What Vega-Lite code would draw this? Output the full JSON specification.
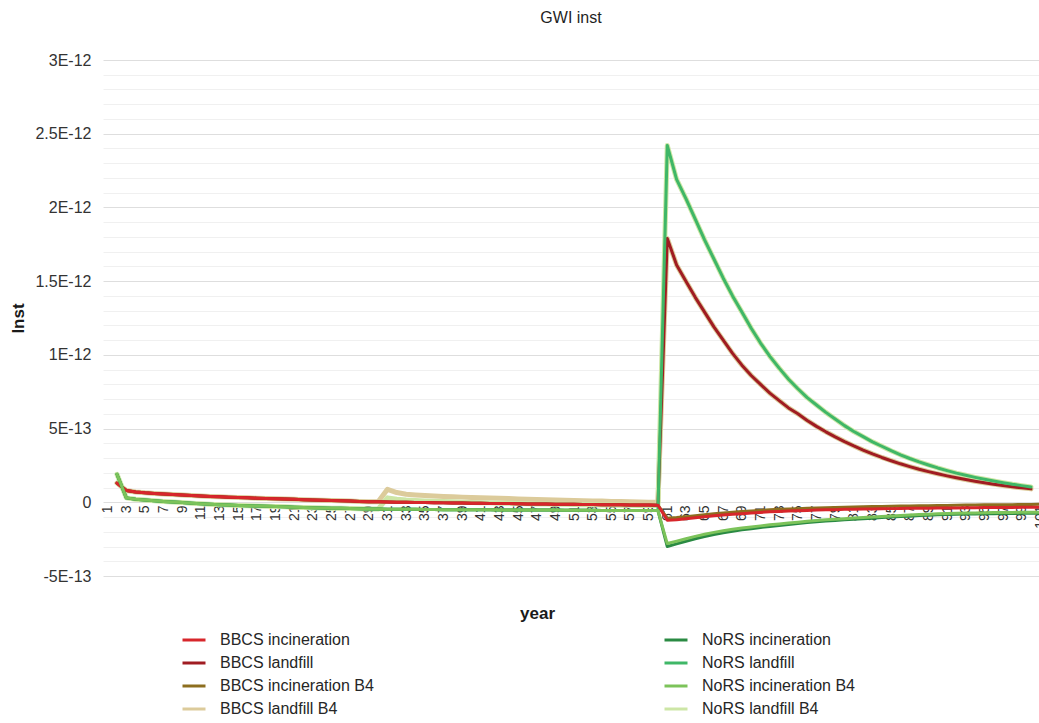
{
  "$schema": "https://vega.github.io/schema/vega-lite/v6.json",
  "width": 942,
  "height": 516,
  "autosize": {"type": "none"},
  "padding": {"left": 103, "top": 60, "right": 0, "bottom": 147},
  "background": "white",
  "title": {"text": "GWI inst", "font": "Liberation Sans", "fontSize": 16, "fontWeight": "normal", "color": "#1f1f1f", "anchor": "middle", "frame": "group", "offset": 26, "dx": -3},
  "config": {"view": {"stroke": null}, "font": "Liberation Sans"},
  "datasets": {
    "bbcs_inc": [
      {"year":2,"gwi":1.3e-13},{"year":3,"gwi":0.8e-13},{"year":4,"gwi":0.7e-13},{"year":5,"gwi":0.64e-13},{"year":6,"gwi":0.6e-13},{"year":7,"gwi":0.56e-13},{"year":8,"gwi":0.52e-13},{"year":9,"gwi":0.49e-13},{"year":10,"gwi":0.46e-13},{"year":11,"gwi":0.43e-13},{"year":12,"gwi":0.4e-13},{"year":13,"gwi":0.37e-13},{"year":14,"gwi":0.35e-13},{"year":15,"gwi":0.32e-13},{"year":16,"gwi":0.3e-13},{"year":17,"gwi":0.28e-13},{"year":18,"gwi":0.26e-13},{"year":19,"gwi":0.24e-13},{"year":20,"gwi":0.22e-13},{"year":21,"gwi":0.2e-13},{"year":22,"gwi":0.18e-13},{"year":23,"gwi":0.16e-13},{"year":24,"gwi":0.14e-13},{"year":25,"gwi":0.12e-13},{"year":26,"gwi":0.1e-13},{"year":27,"gwi":0.08e-13},{"year":28,"gwi":0.06e-13},{"year":29,"gwi":0.04e-13},{"year":30,"gwi":0.03e-13},
      {"year":31,"gwi":0.02e-13},{"year":32,"gwi":0.01e-13},{"year":33,"gwi":0},{"year":34,"gwi":-0.01e-13},{"year":35,"gwi":-0.02e-13},{"year":36,"gwi":-0.03e-13},{"year":37,"gwi":-0.04e-13},{"year":38,"gwi":-0.05e-13},{"year":39,"gwi":-0.05e-13},{"year":40,"gwi":-0.06e-13},{"year":41,"gwi":-0.07e-13},{"year":42,"gwi":-0.08e-13},{"year":43,"gwi":-0.08e-13},{"year":44,"gwi":-0.09e-13},{"year":45,"gwi":-0.1e-13},{"year":46,"gwi":-0.11e-13},{"year":47,"gwi":-0.11e-13},{"year":48,"gwi":-0.12e-13},{"year":49,"gwi":-0.13e-13},{"year":50,"gwi":-0.13e-13},{"year":51,"gwi":-0.14e-13},{"year":52,"gwi":-0.15e-13},{"year":53,"gwi":-0.15e-13},{"year":54,"gwi":-0.16e-13},{"year":55,"gwi":-0.17e-13},{"year":56,"gwi":-0.17e-13},{"year":57,"gwi":-0.18e-13},{"year":58,"gwi":-0.19e-13},{"year":59,"gwi":-0.19e-13},{"year":60,"gwi":-0.2e-13},
      {"year":61,"gwi":-1.22e-13},{"year":62,"gwi":-1.18e-13},{"year":63,"gwi":-1.12e-13},{"year":64,"gwi":-1.05e-13},{"year":65,"gwi":-0.98e-13},{"year":66,"gwi":-0.92e-13},{"year":67,"gwi":-0.86e-13},{"year":68,"gwi":-0.81e-13},{"year":69,"gwi":-0.77e-13},{"year":70,"gwi":-0.73e-13},{"year":71,"gwi":-0.69e-13},{"year":72,"gwi":-0.65e-13},{"year":73,"gwi":-0.62e-13},{"year":74,"gwi":-0.59e-13},{"year":75,"gwi":-0.57e-13},{"year":76,"gwi":-0.55e-13},{"year":77,"gwi":-0.53e-13},{"year":78,"gwi":-0.51e-13},{"year":79,"gwi":-0.5e-13},{"year":80,"gwi":-0.48e-13},{"year":81,"gwi":-0.47e-13},{"year":82,"gwi":-0.46e-13},{"year":83,"gwi":-0.45e-13},{"year":84,"gwi":-0.44e-13},{"year":85,"gwi":-0.43e-13},{"year":86,"gwi":-0.42e-13},{"year":87,"gwi":-0.41e-13},{"year":88,"gwi":-0.4e-13},{"year":89,"gwi":-0.4e-13},{"year":90,"gwi":-0.39e-13},{"year":91,"gwi":-0.38e-13},{"year":92,"gwi":-0.38e-13},{"year":93,"gwi":-0.37e-13},{"year":94,"gwi":-0.37e-13},{"year":95,"gwi":-0.36e-13},{"year":96,"gwi":-0.36e-13},{"year":97,"gwi":-0.35e-13},{"year":98,"gwi":-0.35e-13},{"year":99,"gwi":-0.34e-13},{"year":100,"gwi":-0.34e-13},{"year":101,"gwi":-0.33e-13}
    ],
    "bbcs_land": [
      {"year":2,"gwi":1.3e-13},{"year":3,"gwi":0.8e-13},{"year":4,"gwi":0.7e-13},{"year":5,"gwi":0.64e-13},{"year":6,"gwi":0.6e-13},{"year":7,"gwi":0.56e-13},{"year":8,"gwi":0.52e-13},{"year":9,"gwi":0.49e-13},{"year":10,"gwi":0.46e-13},{"year":11,"gwi":0.43e-13},{"year":12,"gwi":0.4e-13},{"year":13,"gwi":0.37e-13},{"year":14,"gwi":0.35e-13},{"year":15,"gwi":0.32e-13},{"year":16,"gwi":0.3e-13},{"year":17,"gwi":0.28e-13},{"year":18,"gwi":0.26e-13},{"year":19,"gwi":0.24e-13},{"year":20,"gwi":0.22e-13},{"year":21,"gwi":0.2e-13},{"year":22,"gwi":0.18e-13},{"year":23,"gwi":0.16e-13},{"year":24,"gwi":0.14e-13},{"year":25,"gwi":0.12e-13},{"year":26,"gwi":0.1e-13},{"year":27,"gwi":0.08e-13},{"year":28,"gwi":0.06e-13},{"year":29,"gwi":0.04e-13},{"year":30,"gwi":0.03e-13},
      {"year":31,"gwi":0.02e-13},{"year":32,"gwi":0.01e-13},{"year":33,"gwi":0},{"year":34,"gwi":-0.01e-13},{"year":35,"gwi":-0.02e-13},{"year":36,"gwi":-0.03e-13},{"year":37,"gwi":-0.04e-13},{"year":38,"gwi":-0.05e-13},{"year":39,"gwi":-0.05e-13},{"year":40,"gwi":-0.06e-13},{"year":41,"gwi":-0.07e-13},{"year":42,"gwi":-0.08e-13},{"year":43,"gwi":-0.08e-13},{"year":44,"gwi":-0.09e-13},{"year":45,"gwi":-0.1e-13},{"year":46,"gwi":-0.11e-13},{"year":47,"gwi":-0.11e-13},{"year":48,"gwi":-0.12e-13},{"year":49,"gwi":-0.13e-13},{"year":50,"gwi":-0.13e-13},{"year":51,"gwi":-0.14e-13},{"year":52,"gwi":-0.15e-13},{"year":53,"gwi":-0.15e-13},{"year":54,"gwi":-0.16e-13},{"year":55,"gwi":-0.17e-13},{"year":56,"gwi":-0.17e-13},{"year":57,"gwi":-0.18e-13},{"year":58,"gwi":-0.19e-13},{"year":59,"gwi":-0.19e-13},{"year":60,"gwi":-0.2e-13},
      {"year":61,"gwi":17.9e-13},{"year":62,"gwi":16.1e-13},{"year":63,"gwi":15.0e-13},{"year":64,"gwi":13.9e-13},{"year":65,"gwi":12.9e-13},{"year":66,"gwi":11.9e-13},{"year":67,"gwi":11.0e-13},{"year":68,"gwi":10.1e-13},{"year":69,"gwi":9.3e-13},{"year":70,"gwi":8.6e-13},{"year":71,"gwi":8.0e-13},{"year":72,"gwi":7.4e-13},{"year":73,"gwi":6.9e-13},{"year":74,"gwi":6.4e-13},{"year":75,"gwi":6.0e-13},{"year":76,"gwi":5.55e-13},{"year":77,"gwi":5.15e-13},{"year":78,"gwi":4.78e-13},{"year":79,"gwi":4.44e-13},{"year":80,"gwi":4.12e-13},{"year":81,"gwi":3.82e-13},{"year":82,"gwi":3.54e-13},{"year":83,"gwi":3.28e-13},{"year":84,"gwi":3.04e-13},{"year":85,"gwi":2.82e-13},{"year":86,"gwi":2.61e-13},{"year":87,"gwi":2.42e-13},{"year":88,"gwi":2.24e-13},{"year":89,"gwi":2.08e-13},{"year":90,"gwi":1.93e-13},{"year":91,"gwi":1.79e-13},{"year":92,"gwi":1.66e-13},{"year":93,"gwi":1.54e-13},{"year":94,"gwi":1.43e-13},{"year":95,"gwi":1.33e-13},{"year":96,"gwi":1.23e-13},{"year":97,"gwi":1.14e-13},{"year":98,"gwi":1.06e-13},{"year":99,"gwi":0.98e-13},{"year":100,"gwi":0.91e-13}
    ],
    "bbcs_inc_b4": [
      {"year":2,"gwi":1.3e-13},{"year":3,"gwi":0.8e-13},{"year":4,"gwi":0.7e-13},{"year":5,"gwi":0.64e-13},{"year":6,"gwi":0.6e-13},{"year":7,"gwi":0.56e-13},{"year":8,"gwi":0.52e-13},{"year":9,"gwi":0.49e-13},{"year":10,"gwi":0.46e-13},{"year":11,"gwi":0.43e-13},{"year":12,"gwi":0.4e-13},{"year":13,"gwi":0.37e-13},{"year":14,"gwi":0.35e-13},{"year":15,"gwi":0.32e-13},{"year":16,"gwi":0.3e-13},{"year":17,"gwi":0.28e-13},{"year":18,"gwi":0.26e-13},{"year":19,"gwi":0.24e-13},{"year":20,"gwi":0.22e-13},{"year":21,"gwi":0.2e-13},{"year":22,"gwi":0.18e-13},{"year":23,"gwi":0.16e-13},{"year":24,"gwi":0.14e-13},{"year":25,"gwi":0.12e-13},{"year":26,"gwi":0.1e-13},{"year":27,"gwi":0.08e-13},{"year":28,"gwi":0.06e-13},{"year":29,"gwi":0.04e-13},{"year":30,"gwi":0.03e-13},
      {"year":31,"gwi":0.02e-13},{"year":32,"gwi":0.01e-13},{"year":33,"gwi":0},{"year":34,"gwi":-0.01e-13},{"year":35,"gwi":-0.02e-13},{"year":36,"gwi":-0.03e-13},{"year":37,"gwi":-0.04e-13},{"year":38,"gwi":-0.05e-13},{"year":39,"gwi":-0.05e-13},{"year":40,"gwi":-0.06e-13},{"year":41,"gwi":-0.07e-13},{"year":42,"gwi":-0.08e-13},{"year":43,"gwi":-0.08e-13},{"year":44,"gwi":-0.09e-13},{"year":45,"gwi":-0.1e-13},{"year":46,"gwi":-0.11e-13},{"year":47,"gwi":-0.11e-13},{"year":48,"gwi":-0.12e-13},{"year":49,"gwi":-0.13e-13},{"year":50,"gwi":-0.13e-13},{"year":51,"gwi":-0.14e-13},{"year":52,"gwi":-0.15e-13},{"year":53,"gwi":-0.15e-13},{"year":54,"gwi":-0.16e-13},{"year":55,"gwi":-0.17e-13},{"year":56,"gwi":-0.17e-13},{"year":57,"gwi":-0.18e-13},{"year":58,"gwi":-0.19e-13},{"year":59,"gwi":-0.19e-13},{"year":60,"gwi":-0.2e-13},
      {"year":61,"gwi":-1.08e-13},{"year":62,"gwi":-1.04e-13},{"year":63,"gwi":-0.98e-13},{"year":64,"gwi":-0.91e-13},{"year":65,"gwi":-0.84e-13},{"year":66,"gwi":-0.78e-13},{"year":67,"gwi":-0.72e-13},{"year":68,"gwi":-0.67e-13},{"year":69,"gwi":-0.63e-13},{"year":70,"gwi":-0.59e-13},{"year":71,"gwi":-0.55e-13},{"year":72,"gwi":-0.51e-13},{"year":73,"gwi":-0.48e-13},{"year":74,"gwi":-0.45e-13},{"year":75,"gwi":-0.43e-13},{"year":76,"gwi":-0.41e-13},{"year":77,"gwi":-0.39e-13},{"year":78,"gwi":-0.37e-13},{"year":79,"gwi":-0.35e-13},{"year":80,"gwi":-0.33e-13},{"year":81,"gwi":-0.32e-13},{"year":82,"gwi":-0.3e-13},{"year":83,"gwi":-0.29e-13},{"year":84,"gwi":-0.28e-13},{"year":85,"gwi":-0.27e-13},{"year":86,"gwi":-0.26e-13},{"year":87,"gwi":-0.25e-13},{"year":88,"gwi":-0.24e-13},{"year":89,"gwi":-0.23e-13},{"year":90,"gwi":-0.22e-13},{"year":91,"gwi":-0.21e-13},{"year":92,"gwi":-0.2e-13},{"year":93,"gwi":-0.19e-13},{"year":94,"gwi":-0.18e-13},{"year":95,"gwi":-0.17e-13},{"year":96,"gwi":-0.17e-13},{"year":97,"gwi":-0.16e-13},{"year":98,"gwi":-0.16e-13},{"year":99,"gwi":-0.15e-13},{"year":100,"gwi":-0.15e-13},{"year":101,"gwi":-0.14e-13}
    ],
    "bbcs_land_b4": [
      {"year":2,"gwi":1.3e-13},{"year":3,"gwi":0.8e-13},{"year":4,"gwi":0.7e-13},{"year":5,"gwi":0.64e-13},{"year":6,"gwi":0.6e-13},{"year":7,"gwi":0.56e-13},{"year":8,"gwi":0.52e-13},{"year":9,"gwi":0.49e-13},{"year":10,"gwi":0.46e-13},{"year":11,"gwi":0.43e-13},{"year":12,"gwi":0.4e-13},{"year":13,"gwi":0.37e-13},{"year":14,"gwi":0.35e-13},{"year":15,"gwi":0.32e-13},{"year":16,"gwi":0.3e-13},{"year":17,"gwi":0.28e-13},{"year":18,"gwi":0.26e-13},{"year":19,"gwi":0.24e-13},{"year":20,"gwi":0.22e-13},{"year":21,"gwi":0.2e-13},{"year":22,"gwi":0.18e-13},{"year":23,"gwi":0.16e-13},{"year":24,"gwi":0.14e-13},{"year":25,"gwi":0.12e-13},{"year":26,"gwi":0.1e-13},{"year":27,"gwi":0.08e-13},{"year":28,"gwi":0.06e-13},{"year":29,"gwi":0.04e-13},{"year":30,"gwi":0.03e-13},
      {"year":31,"gwi":0.88e-13},{"year":32,"gwi":0.66e-13},{"year":33,"gwi":0.55e-13},{"year":34,"gwi":0.5e-13},{"year":35,"gwi":0.46e-13},{"year":36,"gwi":0.43e-13},{"year":37,"gwi":0.4e-13},{"year":38,"gwi":0.37e-13},{"year":39,"gwi":0.35e-13},{"year":40,"gwi":0.33e-13},{"year":41,"gwi":0.31e-13},{"year":42,"gwi":0.29e-13},{"year":43,"gwi":0.27e-13},{"year":44,"gwi":0.25e-13},{"year":45,"gwi":0.23e-13},{"year":46,"gwi":0.21e-13},{"year":47,"gwi":0.19e-13},{"year":48,"gwi":0.17e-13},{"year":49,"gwi":0.16e-13},{"year":50,"gwi":0.14e-13},{"year":51,"gwi":0.12e-13},{"year":52,"gwi":0.11e-13},{"year":53,"gwi":0.09e-13},{"year":54,"gwi":0.08e-13},{"year":55,"gwi":0.06e-13},{"year":56,"gwi":0.05e-13},{"year":57,"gwi":0.04e-13},{"year":58,"gwi":0.02e-13},{"year":59,"gwi":0.01e-13},{"year":60,"gwi":0},
      {"year":61,"gwi":17.9e-13},{"year":62,"gwi":16.1e-13},{"year":63,"gwi":15.0e-13},{"year":64,"gwi":13.9e-13},{"year":65,"gwi":12.9e-13},{"year":66,"gwi":11.9e-13},{"year":67,"gwi":11.0e-13},{"year":68,"gwi":10.1e-13},{"year":69,"gwi":9.3e-13},{"year":70,"gwi":8.6e-13},{"year":71,"gwi":8.0e-13},{"year":72,"gwi":7.4e-13},{"year":73,"gwi":6.9e-13},{"year":74,"gwi":6.4e-13},{"year":75,"gwi":6.0e-13},{"year":76,"gwi":5.55e-13},{"year":77,"gwi":5.15e-13},{"year":78,"gwi":4.78e-13},{"year":79,"gwi":4.44e-13},{"year":80,"gwi":4.12e-13},{"year":81,"gwi":3.82e-13},{"year":82,"gwi":3.54e-13},{"year":83,"gwi":3.28e-13},{"year":84,"gwi":3.04e-13},{"year":85,"gwi":2.82e-13},{"year":86,"gwi":2.61e-13},{"year":87,"gwi":2.42e-13},{"year":88,"gwi":2.24e-13},{"year":89,"gwi":2.08e-13},{"year":90,"gwi":1.93e-13},{"year":91,"gwi":1.79e-13},{"year":92,"gwi":1.66e-13},{"year":93,"gwi":1.54e-13},{"year":94,"gwi":1.43e-13},{"year":95,"gwi":1.33e-13},{"year":96,"gwi":1.23e-13},{"year":97,"gwi":1.14e-13},{"year":98,"gwi":1.06e-13},{"year":99,"gwi":0.98e-13},{"year":100,"gwi":0.91e-13}
    ],
    "nors_inc": [
      {"year":2,"gwi":1.9e-13},{"year":3,"gwi":0.3e-13},{"year":4,"gwi":0.2e-13},{"year":5,"gwi":0.15e-13},{"year":6,"gwi":0.1e-13},{"year":7,"gwi":0.06e-13},{"year":8,"gwi":0.02e-13},{"year":9,"gwi":-0.02e-13},{"year":10,"gwi":-0.06e-13},{"year":11,"gwi":-0.1e-13},{"year":12,"gwi":-0.13e-13},{"year":13,"gwi":-0.16e-13},{"year":14,"gwi":-0.19e-13},{"year":15,"gwi":-0.21e-13},{"year":16,"gwi":-0.23e-13},{"year":17,"gwi":-0.25e-13},{"year":18,"gwi":-0.27e-13},{"year":19,"gwi":-0.29e-13},{"year":20,"gwi":-0.31e-13},{"year":21,"gwi":-0.33e-13},{"year":22,"gwi":-0.35e-13},{"year":23,"gwi":-0.37e-13},{"year":24,"gwi":-0.38e-13},{"year":25,"gwi":-0.4e-13},{"year":26,"gwi":-0.41e-13},{"year":27,"gwi":-0.42e-13},{"year":28,"gwi":-0.44e-13},{"year":29,"gwi":-0.45e-13},{"year":30,"gwi":-0.46e-13},
      {"year":31,"gwi":-0.47e-13},{"year":32,"gwi":-0.47e-13},{"year":33,"gwi":-0.48e-13},{"year":34,"gwi":-0.48e-13},{"year":35,"gwi":-0.49e-13},{"year":36,"gwi":-0.49e-13},{"year":37,"gwi":-0.5e-13},{"year":38,"gwi":-0.5e-13},{"year":39,"gwi":-0.5e-13},{"year":40,"gwi":-0.51e-13},{"year":41,"gwi":-0.51e-13},{"year":42,"gwi":-0.51e-13},{"year":43,"gwi":-0.52e-13},{"year":44,"gwi":-0.52e-13},{"year":45,"gwi":-0.52e-13},{"year":46,"gwi":-0.53e-13},{"year":47,"gwi":-0.53e-13},{"year":48,"gwi":-0.53e-13},{"year":49,"gwi":-0.53e-13},{"year":50,"gwi":-0.54e-13},{"year":51,"gwi":-0.54e-13},{"year":52,"gwi":-0.54e-13},{"year":53,"gwi":-0.54e-13},{"year":54,"gwi":-0.55e-13},{"year":55,"gwi":-0.55e-13},{"year":56,"gwi":-0.55e-13},{"year":57,"gwi":-0.55e-13},{"year":58,"gwi":-0.56e-13},{"year":59,"gwi":-0.56e-13},{"year":60,"gwi":-0.56e-13},
      {"year":61,"gwi":-3.0e-13},{"year":62,"gwi":-2.82e-13},{"year":63,"gwi":-2.64e-13},{"year":64,"gwi":-2.47e-13},{"year":65,"gwi":-2.32e-13},{"year":66,"gwi":-2.18e-13},{"year":67,"gwi":-2.06e-13},{"year":68,"gwi":-1.96e-13},{"year":69,"gwi":-1.87e-13},{"year":70,"gwi":-1.79e-13},{"year":71,"gwi":-1.71e-13},{"year":72,"gwi":-1.64e-13},{"year":73,"gwi":-1.57e-13},{"year":74,"gwi":-1.5e-13},{"year":75,"gwi":-1.44e-13},{"year":76,"gwi":-1.38e-13},{"year":77,"gwi":-1.32e-13},{"year":78,"gwi":-1.27e-13},{"year":79,"gwi":-1.23e-13},{"year":80,"gwi":-1.19e-13},{"year":81,"gwi":-1.15e-13},{"year":82,"gwi":-1.11e-13},{"year":83,"gwi":-1.08e-13},{"year":84,"gwi":-1.04e-13},{"year":85,"gwi":-1.0e-13},{"year":86,"gwi":-0.97e-13},{"year":87,"gwi":-0.94e-13},{"year":88,"gwi":-0.9e-13},{"year":89,"gwi":-0.88e-13},{"year":90,"gwi":-0.85e-13},{"year":91,"gwi":-0.83e-13},{"year":92,"gwi":-0.81e-13},{"year":93,"gwi":-0.8e-13},{"year":94,"gwi":-0.79e-13},{"year":95,"gwi":-0.78e-13},{"year":96,"gwi":-0.77e-13},{"year":97,"gwi":-0.76e-13},{"year":98,"gwi":-0.76e-13},{"year":99,"gwi":-0.75e-13},{"year":100,"gwi":-0.75e-13},{"year":101,"gwi":-0.74e-13}
    ],
    "nors_land": [
      {"year":2,"gwi":1.9e-13},{"year":3,"gwi":0.3e-13},{"year":4,"gwi":0.2e-13},{"year":5,"gwi":0.15e-13},{"year":6,"gwi":0.1e-13},{"year":7,"gwi":0.06e-13},{"year":8,"gwi":0.02e-13},{"year":9,"gwi":-0.02e-13},{"year":10,"gwi":-0.06e-13},{"year":11,"gwi":-0.1e-13},{"year":12,"gwi":-0.13e-13},{"year":13,"gwi":-0.16e-13},{"year":14,"gwi":-0.19e-13},{"year":15,"gwi":-0.21e-13},{"year":16,"gwi":-0.23e-13},{"year":17,"gwi":-0.25e-13},{"year":18,"gwi":-0.27e-13},{"year":19,"gwi":-0.29e-13},{"year":20,"gwi":-0.31e-13},{"year":21,"gwi":-0.33e-13},{"year":22,"gwi":-0.35e-13},{"year":23,"gwi":-0.37e-13},{"year":24,"gwi":-0.38e-13},{"year":25,"gwi":-0.4e-13},{"year":26,"gwi":-0.41e-13},{"year":27,"gwi":-0.42e-13},{"year":28,"gwi":-0.44e-13},{"year":29,"gwi":-0.45e-13},{"year":30,"gwi":-0.46e-13},
      {"year":31,"gwi":-0.47e-13},{"year":32,"gwi":-0.47e-13},{"year":33,"gwi":-0.48e-13},{"year":34,"gwi":-0.48e-13},{"year":35,"gwi":-0.49e-13},{"year":36,"gwi":-0.49e-13},{"year":37,"gwi":-0.5e-13},{"year":38,"gwi":-0.5e-13},{"year":39,"gwi":-0.5e-13},{"year":40,"gwi":-0.51e-13},{"year":41,"gwi":-0.51e-13},{"year":42,"gwi":-0.51e-13},{"year":43,"gwi":-0.52e-13},{"year":44,"gwi":-0.52e-13},{"year":45,"gwi":-0.52e-13},{"year":46,"gwi":-0.53e-13},{"year":47,"gwi":-0.53e-13},{"year":48,"gwi":-0.53e-13},{"year":49,"gwi":-0.53e-13},{"year":50,"gwi":-0.54e-13},{"year":51,"gwi":-0.54e-13},{"year":52,"gwi":-0.54e-13},{"year":53,"gwi":-0.54e-13},{"year":54,"gwi":-0.55e-13},{"year":55,"gwi":-0.55e-13},{"year":56,"gwi":-0.55e-13},{"year":57,"gwi":-0.55e-13},{"year":58,"gwi":-0.56e-13},{"year":59,"gwi":-0.56e-13},{"year":60,"gwi":-0.56e-13},
      {"year":61,"gwi":24.2e-13},{"year":62,"gwi":21.9e-13},{"year":63,"gwi":20.6e-13},{"year":64,"gwi":19.2e-13},{"year":65,"gwi":17.8e-13},{"year":66,"gwi":16.5e-13},{"year":67,"gwi":15.2e-13},{"year":68,"gwi":14.0e-13},{"year":69,"gwi":12.9e-13},{"year":70,"gwi":11.8e-13},{"year":71,"gwi":10.8e-13},{"year":72,"gwi":9.9e-13},{"year":73,"gwi":9.1e-13},{"year":74,"gwi":8.35e-13},{"year":75,"gwi":7.7e-13},{"year":76,"gwi":7.1e-13},{"year":77,"gwi":6.6e-13},{"year":78,"gwi":6.1e-13},{"year":79,"gwi":5.65e-13},{"year":80,"gwi":5.2e-13},{"year":81,"gwi":4.8e-13},{"year":82,"gwi":4.45e-13},{"year":83,"gwi":4.1e-13},{"year":84,"gwi":3.8e-13},{"year":85,"gwi":3.5e-13},{"year":86,"gwi":3.22e-13},{"year":87,"gwi":2.97e-13},{"year":88,"gwi":2.74e-13},{"year":89,"gwi":2.53e-13},{"year":90,"gwi":2.33e-13},{"year":91,"gwi":2.15e-13},{"year":92,"gwi":1.98e-13},{"year":93,"gwi":1.83e-13},{"year":94,"gwi":1.69e-13},{"year":95,"gwi":1.56e-13},{"year":96,"gwi":1.44e-13},{"year":97,"gwi":1.33e-13},{"year":98,"gwi":1.22e-13},{"year":99,"gwi":1.13e-13},{"year":100,"gwi":1.04e-13}
    ],
    "nors_inc_b4": [
      {"year":2,"gwi":1.9e-13},{"year":3,"gwi":0.3e-13},{"year":4,"gwi":0.2e-13},{"year":5,"gwi":0.15e-13},{"year":6,"gwi":0.1e-13},{"year":7,"gwi":0.06e-13},{"year":8,"gwi":0.02e-13},{"year":9,"gwi":-0.02e-13},{"year":10,"gwi":-0.06e-13},{"year":11,"gwi":-0.1e-13},{"year":12,"gwi":-0.13e-13},{"year":13,"gwi":-0.16e-13},{"year":14,"gwi":-0.19e-13},{"year":15,"gwi":-0.21e-13},{"year":16,"gwi":-0.23e-13},{"year":17,"gwi":-0.25e-13},{"year":18,"gwi":-0.27e-13},{"year":19,"gwi":-0.29e-13},{"year":20,"gwi":-0.31e-13},{"year":21,"gwi":-0.33e-13},{"year":22,"gwi":-0.35e-13},{"year":23,"gwi":-0.37e-13},{"year":24,"gwi":-0.38e-13},{"year":25,"gwi":-0.4e-13},{"year":26,"gwi":-0.41e-13},{"year":27,"gwi":-0.42e-13},{"year":28,"gwi":-0.44e-13},{"year":29,"gwi":-0.45e-13},{"year":30,"gwi":-0.46e-13},
      {"year":31,"gwi":-0.47e-13},{"year":32,"gwi":-0.47e-13},{"year":33,"gwi":-0.48e-13},{"year":34,"gwi":-0.48e-13},{"year":35,"gwi":-0.49e-13},{"year":36,"gwi":-0.49e-13},{"year":37,"gwi":-0.5e-13},{"year":38,"gwi":-0.5e-13},{"year":39,"gwi":-0.5e-13},{"year":40,"gwi":-0.51e-13},{"year":41,"gwi":-0.51e-13},{"year":42,"gwi":-0.51e-13},{"year":43,"gwi":-0.52e-13},{"year":44,"gwi":-0.52e-13},{"year":45,"gwi":-0.52e-13},{"year":46,"gwi":-0.53e-13},{"year":47,"gwi":-0.53e-13},{"year":48,"gwi":-0.53e-13},{"year":49,"gwi":-0.53e-13},{"year":50,"gwi":-0.54e-13},{"year":51,"gwi":-0.54e-13},{"year":52,"gwi":-0.54e-13},{"year":53,"gwi":-0.54e-13},{"year":54,"gwi":-0.55e-13},{"year":55,"gwi":-0.55e-13},{"year":56,"gwi":-0.55e-13},{"year":57,"gwi":-0.55e-13},{"year":58,"gwi":-0.56e-13},{"year":59,"gwi":-0.56e-13},{"year":60,"gwi":-0.56e-13},
      {"year":61,"gwi":-2.8e-13},{"year":62,"gwi":-2.64e-13},{"year":63,"gwi":-2.47e-13},{"year":64,"gwi":-2.31e-13},{"year":65,"gwi":-2.17e-13},{"year":66,"gwi":-2.04e-13},{"year":67,"gwi":-1.93e-13},{"year":68,"gwi":-1.83e-13},{"year":69,"gwi":-1.75e-13},{"year":70,"gwi":-1.67e-13},{"year":71,"gwi":-1.6e-13},{"year":72,"gwi":-1.53e-13},{"year":73,"gwi":-1.47e-13},{"year":74,"gwi":-1.41e-13},{"year":75,"gwi":-1.35e-13},{"year":76,"gwi":-1.29e-13},{"year":77,"gwi":-1.24e-13},{"year":78,"gwi":-1.19e-13},{"year":79,"gwi":-1.15e-13},{"year":80,"gwi":-1.11e-13},{"year":81,"gwi":-1.07e-13},{"year":82,"gwi":-1.03e-13},{"year":83,"gwi":-1.0e-13},{"year":84,"gwi":-0.96e-13},{"year":85,"gwi":-0.93e-13},{"year":86,"gwi":-0.9e-13},{"year":87,"gwi":-0.87e-13},{"year":88,"gwi":-0.83e-13},{"year":89,"gwi":-0.81e-13},{"year":90,"gwi":-0.78e-13},{"year":91,"gwi":-0.76e-13},{"year":92,"gwi":-0.74e-13},{"year":93,"gwi":-0.73e-13},{"year":94,"gwi":-0.72e-13},{"year":95,"gwi":-0.71e-13},{"year":96,"gwi":-0.7e-13},{"year":97,"gwi":-0.69e-13},{"year":98,"gwi":-0.69e-13},{"year":99,"gwi":-0.68e-13},{"year":100,"gwi":-0.68e-13},{"year":101,"gwi":-0.67e-13}
    ],
    "nors_land_b4": [
      {"year":2,"gwi":1.9e-13},{"year":3,"gwi":0.3e-13},{"year":4,"gwi":0.2e-13},{"year":5,"gwi":0.15e-13},{"year":6,"gwi":0.1e-13},{"year":7,"gwi":0.06e-13},{"year":8,"gwi":0.02e-13},{"year":9,"gwi":-0.02e-13},{"year":10,"gwi":-0.06e-13},{"year":11,"gwi":-0.1e-13},{"year":12,"gwi":-0.13e-13},{"year":13,"gwi":-0.16e-13},{"year":14,"gwi":-0.19e-13},{"year":15,"gwi":-0.21e-13},{"year":16,"gwi":-0.23e-13},{"year":17,"gwi":-0.25e-13},{"year":18,"gwi":-0.27e-13},{"year":19,"gwi":-0.29e-13},{"year":20,"gwi":-0.31e-13},{"year":21,"gwi":-0.33e-13},{"year":22,"gwi":-0.35e-13},{"year":23,"gwi":-0.37e-13},{"year":24,"gwi":-0.38e-13},{"year":25,"gwi":-0.4e-13},{"year":26,"gwi":-0.41e-13},{"year":27,"gwi":-0.42e-13},{"year":28,"gwi":-0.44e-13},{"year":29,"gwi":-0.45e-13},{"year":30,"gwi":-0.46e-13},
      {"year":31,"gwi":0.3e-13},{"year":32,"gwi":0.2e-13},{"year":33,"gwi":0.15e-13},{"year":34,"gwi":0.12e-13},{"year":35,"gwi":0.09e-13},{"year":36,"gwi":0.07e-13},{"year":37,"gwi":0.05e-13},{"year":38,"gwi":0.03e-13},{"year":39,"gwi":0.01e-13},{"year":40,"gwi":-0.01e-13},{"year":41,"gwi":-0.03e-13},{"year":42,"gwi":-0.04e-13},{"year":43,"gwi":-0.06e-13},{"year":44,"gwi":-0.07e-13},{"year":45,"gwi":-0.09e-13},{"year":46,"gwi":-0.1e-13},{"year":47,"gwi":-0.11e-13},{"year":48,"gwi":-0.12e-13},{"year":49,"gwi":-0.13e-13},{"year":50,"gwi":-0.14e-13},{"year":51,"gwi":-0.15e-13},{"year":52,"gwi":-0.16e-13},{"year":53,"gwi":-0.17e-13},{"year":54,"gwi":-0.18e-13},{"year":55,"gwi":-0.19e-13},{"year":56,"gwi":-0.2e-13},{"year":57,"gwi":-0.2e-13},{"year":58,"gwi":-0.21e-13},{"year":59,"gwi":-0.22e-13},{"year":60,"gwi":-0.22e-13},
      {"year":61,"gwi":24.2e-13},{"year":62,"gwi":21.9e-13},{"year":63,"gwi":20.6e-13},{"year":64,"gwi":19.2e-13},{"year":65,"gwi":17.8e-13},{"year":66,"gwi":16.5e-13},{"year":67,"gwi":15.2e-13},{"year":68,"gwi":14.0e-13},{"year":69,"gwi":12.9e-13},{"year":70,"gwi":11.8e-13},{"year":71,"gwi":10.8e-13},{"year":72,"gwi":9.9e-13},{"year":73,"gwi":9.1e-13},{"year":74,"gwi":8.35e-13},{"year":75,"gwi":7.7e-13},{"year":76,"gwi":7.1e-13},{"year":77,"gwi":6.6e-13},{"year":78,"gwi":6.1e-13},{"year":79,"gwi":5.65e-13},{"year":80,"gwi":5.2e-13},{"year":81,"gwi":4.8e-13},{"year":82,"gwi":4.45e-13},{"year":83,"gwi":4.1e-13},{"year":84,"gwi":3.8e-13},{"year":85,"gwi":3.5e-13},{"year":86,"gwi":3.22e-13},{"year":87,"gwi":2.97e-13},{"year":88,"gwi":2.74e-13},{"year":89,"gwi":2.53e-13},{"year":90,"gwi":2.33e-13},{"year":91,"gwi":2.15e-13},{"year":92,"gwi":1.98e-13},{"year":93,"gwi":1.83e-13},{"year":94,"gwi":1.69e-13},{"year":95,"gwi":1.56e-13},{"year":96,"gwi":1.44e-13},{"year":97,"gwi":1.33e-13},{"year":98,"gwi":1.22e-13},{"year":99,"gwi":1.13e-13},{"year":100,"gwi":1.04e-13}
    ]
  },
  "encoding": {
    "x": {
      "field": "year",
      "type": "quantitative",
      "scale": {"domain": [0.5, 101.5], "nice": false, "zero": false},
      "axis": {
        "values": [1,3,5,7,9,11,13,15,17,19,21,23,25,27,29,31,33,35,37,39,41,43,45,47,49,51,53,55,57,59,61,63,65,67,69,71,73,75,77,79,81,83,85,87,89,91,93,95,97,99,101],
        "labelAngle": -90,
        "labelFontSize": 14,
        "labelColor": "#333333",
        "labelPadding": 3,
        "labelOverlap": false,
        "labelFlush": false,
        "grid": false,
        "ticks": false,
        "domain": false,
        "offset": -74,
        "title": "year",
        "titleFontSize": 17,
        "titleFontWeight": "bold",
        "titleColor": "#1a1a1a",
        "titleX": 434,
        "titleY": 111,
        "titleAlign": "center",
        "titleBaseline": "middle"
      }
    },
    "y": {
      "field": "gwi",
      "type": "quantitative",
      "scale": {"domain": [-5e-13, 30e-13], "nice": false, "zero": false},
      "axis": {
        "values": [-5e-13,-4e-13,-3e-13,-2e-13,-1e-13,0,1e-13,2e-13,3e-13,4e-13,5e-13,6e-13,7e-13,8e-13,9e-13,10e-13,11e-13,12e-13,13e-13,14e-13,15e-13,16e-13,17e-13,18e-13,19e-13,20e-13,21e-13,22e-13,23e-13,24e-13,25e-13,26e-13,27e-13,28e-13,29e-13,30e-13],
        "labelExpr": "round(datum.value*1e13) % 5 != 0 ? '' : round(datum.value*1e13) == 0 ? '0' : abs(round(datum.value*1e13)) >= 10 ? (round(datum.value*1e13)/10) + 'E-12' : round(datum.value*1e13) + 'E-13'",
        "gridColor": {"condition": {"test": "round(datum.value*1e13) % 5 == 0", "value": "#dedede"}, "value": "#f0f0f0"},
        "gridWidth": 1,
        "ticks": false,
        "domain": false,
        "labelFontSize": 16,
        "labelColor": "#333333",
        "labelPadding": 12,
        "title": "Inst",
        "titleFontSize": 17,
        "titleFontWeight": "bold",
        "titleColor": "#1a1a1a",
        "titleX": -85,
        "titleY": 258,
        "titleAngle": -90,
        "titleAlign": "center",
        "titleBaseline": "middle"
      }
    }
  },
  "layer": [
    {
      "data": {"name": "bbcs_land_b4"},
      "mark": {"type": "line", "strokeWidth": 5, "strokeCap": "round", "strokeJoin": "round"},
      "encoding": {
        "color": {
          "datum": "BBCS landfill B4",
          "type": "nominal",
          "scale": {
            "domain": ["BBCS incineration", "BBCS landfill", "BBCS incineration B4", "BBCS landfill B4", "NoRS incineration", "NoRS landfill", "NoRS incineration B4", "NoRS landfill B4"],
            "range": ["#d7262b", "#a01c22", "#8d6e1f", "#dccb9b", "#2a8a43", "#3fb767", "#7cc35a", "#cde6a6"]
          },
          "legend": {
            "orient": "none",
            "legendX": 78,
            "legendY": 567,
            "columns": 2,
            "title": null,
            "padding": 0,
            "symbolType": "stroke",
            "symbolSize": 529,
            "symbolStrokeWidth": 3,
            "labelFontSize": 16,
            "labelColor": "#262626",
            "labelOffset": 13,
            "labelLimit": 400,
            "columnPadding": 284,
            "rowPadding": 2
          }
        }
      }
    },
    {
      "data": {"name": "nors_land_b4"},
      "mark": {"type": "line", "strokeWidth": 5, "strokeCap": "round", "strokeJoin": "round"},
      "encoding": {"color": {"datum": "NoRS landfill B4", "type": "nominal"}}
    },
    {
      "data": {"name": "bbcs_inc_b4"},
      "mark": {"type": "line", "strokeWidth": 3, "strokeCap": "round", "strokeJoin": "round"},
      "encoding": {"color": {"datum": "BBCS incineration B4", "type": "nominal"}}
    },
    {
      "data": {"name": "bbcs_land"},
      "mark": {"type": "line", "strokeWidth": 3, "strokeCap": "round", "strokeJoin": "round"},
      "encoding": {"color": {"datum": "BBCS landfill", "type": "nominal"}}
    },
    {
      "data": {"name": "nors_land"},
      "mark": {"type": "line", "strokeWidth": 3, "strokeCap": "round", "strokeJoin": "round"},
      "encoding": {"color": {"datum": "NoRS landfill", "type": "nominal"}}
    },
    {
      "data": {"name": "bbcs_inc"},
      "mark": {"type": "line", "strokeWidth": 3, "strokeCap": "round", "strokeJoin": "round"},
      "encoding": {"color": {"datum": "BBCS incineration", "type": "nominal"}}
    },
    {
      "data": {"name": "nors_inc"},
      "mark": {"type": "line", "strokeWidth": 3, "strokeCap": "round", "strokeJoin": "round"},
      "encoding": {"color": {"datum": "NoRS incineration", "type": "nominal"}}
    },
    {
      "data": {"name": "nors_inc_b4"},
      "mark": {"type": "line", "strokeWidth": 3, "strokeCap": "round", "strokeJoin": "round"},
      "encoding": {"color": {"datum": "NoRS incineration B4", "type": "nominal"}}
    }
  ]
}
